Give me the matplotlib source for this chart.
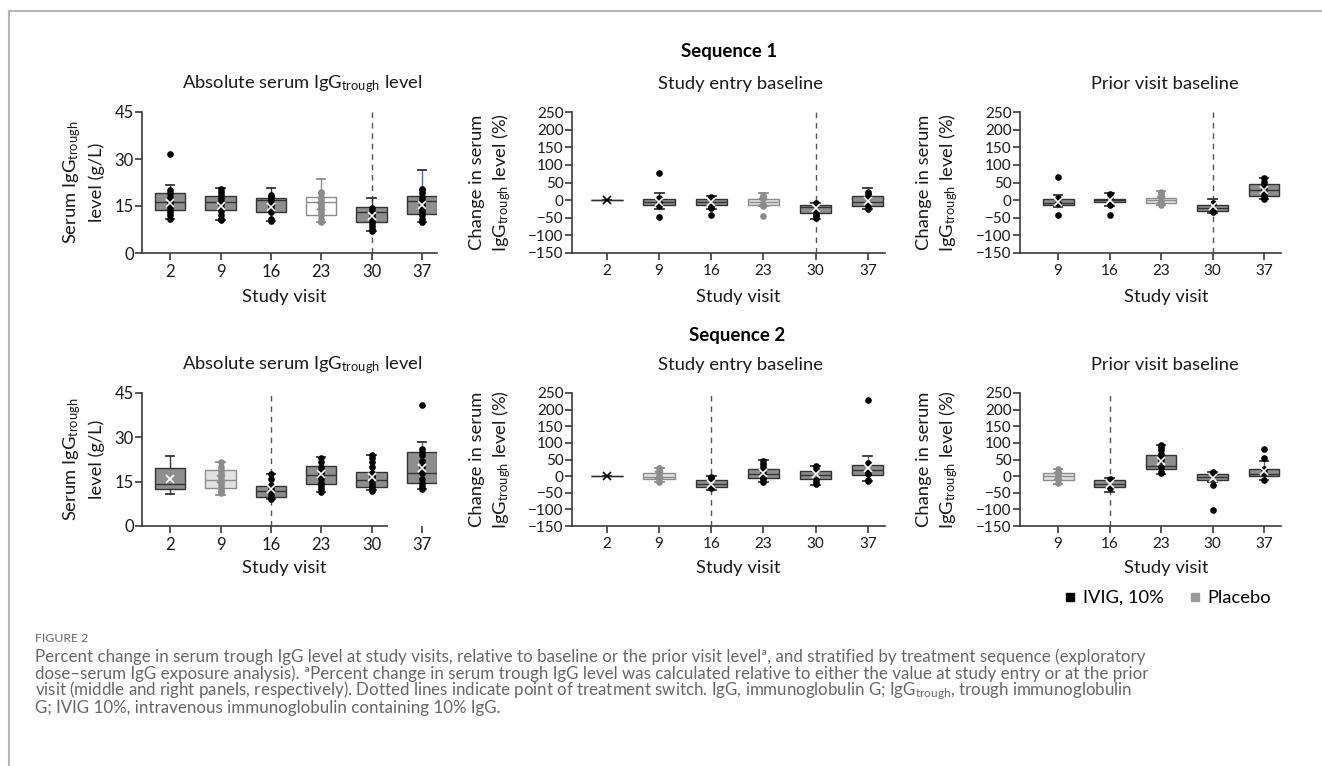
import numpy as np
import matplotlib.pyplot as plt
from matplotlib.lines import Line2D

plt.rcParams['font.family'] = ['Lato', 'DejaVu Sans']
plt.rcParams['mathtext.fontset'] = 'custom'
plt.rcParams['mathtext.rm'] = 'Lato'
plt.rcParams['mathtext.it'] = 'Lato:italic'
plt.rcParams['mathtext.bf'] = 'Lato:bold'

# ---- data ----
visits_all = ['2', '9', '16', '23', '30', '37']
visits_prior = ['9', '16', '23', '30', '37']
seq1_treat = ['IVIG', 'IVIG', 'IVIG', 'Placebo', 'IVIG', 'IVIG']
seq1_prior_treat = ['IVIG', 'IVIG', 'Placebo', 'IVIG', 'IVIG']
seq2_treat = ['IVIG', 'Placebo', 'IVIG', 'IVIG', 'IVIG', 'IVIG']
seq2_prior_treat = ['Placebo', 'IVIG', 'IVIG', 'IVIG', 'IVIG']
seq1_switch = '30'
seq2_switch = '16'

# Sequence 1, absolute serum IgG trough (g/L)
s1_abs_q1 = [13.8, 13.6, 13.2, 12.2, 9.9, 12.5]
s1_abs_med = [16.2, 16.2, 16.9, 16.4, 13.2, 16.6]
s1_abs_q3 = [19.1, 18.2, 17.5, 18.0, 14.8, 18.3]
s1_abs_lo = [11.0, 10.4, 10.1, 10.0, 7.0, 10.0]
s1_abs_hi = [21.7, 20.8, 20.8, 23.5, 17.5, 26.5]
s1_abs_mean = [16.0, 15.0, 14.8, 15.0, 11.7, 15.4]
s1_abs_pts = [[11, 12, 13, 14, 15, 16, 17, 18, 19, 20, 31.5],
              [10.5, 11, 12, 13.5, 14.5, 15.5, 16.5, 17.5, 18.5, 19.5, 20.5],
              [10.3, 10.8, 13, 14, 15, 16, 17, 18, 18.5],
              [10, 11, 12, 13, 14, 15, 16, 17, 18, 19, 19.5],
              [7, 7.8, 8.5, 9.5, 10.5, 11.5, 12.5, 13.5, 14.5],
              [10, 11, 12, 13, 14, 15, 16, 17, 18, 19, 20, 20.5]]

# Sequence 1, % change vs study entry
s1_ent_q1 = [0, -13.5, -13.5, -13.5, -37, -18]
s1_ent_med = [0, -6, -4, -4, -20, -4]
s1_ent_q3 = [0, 2.6, 4.5, 3.5, -13.5, 12]
s1_ent_lo = [0, -25, -26, -18, -54, -26]
s1_ent_hi = [0, 19, 12, 19, -7, 34]
s1_ent_mean = [0, -6, -6, -4, -21, -2]
s1_ent_pts = [[],
              [77.8, 5, -9, -16, -49],
              [10, 7, -18, -22, -42],
              [15, 10, 5, -18, -15, -44.6],
              [-7, -32, -40, -46, -51],
              [24, 18, 10, -18, -26]]

# Sequence 1, % change vs prior visit
s1_pri_q1 = [-13.5, -6, -7, -30.5, 12]
s1_pri_med = [-7, -1, -1, -21, 29]
s1_pri_q3 = [2.6, 3.5, 5.5, -13.5, 45]
s1_pri_lo = [-20, -18, -13.5, -37, 2.6]
s1_pri_hi = [15, 19, 27, 3.5, 62]
s1_pri_mean = [-4, -1, 0, -18, 29]
s1_pri_pts = [[64.6, 5, -9, -43.6],
              [17.6, 10, -13.5, -41.8],
              [24, 17.6, 10, -4, -13.5],
              [-9, -27.6, -35],
              [62, 52.6, 43, 33.6, 24, 15, 5.5, 2.6]]

# Sequence 2, absolute serum IgG trough (g/L)
s2_abs_q1 = [12.6, 13.0, 9.8, 14.3, 13.2, 14.6]
s2_abs_med = [14.3, 15.4, 11.7, 17.4, 15.7, 17.9]
s2_abs_q3 = [19.7, 18.8, 13.7, 20.4, 18.4, 24.9]
s2_abs_lo = [10.9, 10.6, 9.0, 11.5, 12.1, 12.6]
s2_abs_hi = [23.6, 21.8, 17.6, 23.4, 24.1, 28.5]
s2_abs_mean = [16.0, 16.0, 12.4, 17.6, 16.5, 19.7]
s2_abs_pts = [[],
              [11, 12, 13, 14, 15, 16, 17, 18, 19, 20, 21.5],
              [9, 9.5, 10.5, 11.5, 12.5, 14, 16, 17.5],
              [11.5, 12.5, 13.5, 14.5, 16, 17, 18, 19, 20, 21.5, 23],
              [12, 13, 14, 15, 16, 17, 18, 20, 21.5, 23, 24],
              [12.5, 13.5, 14.5, 16, 18, 20, 22, 24, 25, 26, 41.1]]

# Sequence 2, % change vs study entry
s2_ent_q1 = [0, -10, -34, -7, -8, 3]
s2_ent_med = [0, -2, -24, 6, 3, 18]
s2_ent_q3 = [0, 8, -12, 21, 15, 33.4]
s2_ent_lo = [0, -17, -42, -17, -27, -15]
s2_ent_hi = [0, 23, 0, 48.5, 30, 61.6]
s2_ent_mean = [0, 3, -24, 10, 5, 23]
s2_ent_pts = [[],
              [23, 15, 8, 0, -8, -17],
              [-2, -6, -32, -37],
              [45, 35, 26, 13, -2, -10, -17],
              [30, 20, -12, -20, -24],
              [230, 38.4, 13, 5, -12, -15]]

# Sequence 2, % change vs prior visit
s2_pri_q1 = [-11, -33, 22.4, -11, -1]
s2_pri_med = [-1, -23, 30.5, -3, 7.4]
s2_pri_q3 = [9, -13, 62.5, 5, 20]
s2_pri_lo = [-23, -48, 7.5, -18, -13]
s2_pri_hi = [22, -6, 94.6, 12.6, 45.5]
s2_pri_mean = [0, -23, 44, -5, 15.6]
s2_pri_pts = [[22, 12, 3, -10, -20],
              [-8, -36],
              [94, 88, 78, 68, 58, 48, 28, 13, 10],
              [12.6, 5, -26, -103],
              [80.6, 54.5, 22, 9.4, -13]]

W, H = 1322, 766


def fx(x):
  return x / W


def fy(y):
  return 1 - y / H


def draw_panel(ax, labels, treat, q1, med, q3, lo, hi, mean, pts, switch, placebo_fill='#e2e2e2'):
  pos = np.arange(len(labels))
  for i in range(len(labels)):
    stats = dict(q1=q1[i], med=med[i], q3=q3[i], whislo=lo[i], whishi=hi[i], mean=mean[i], fliers=[])
    if treat[i] == 'IVIG':
      face, edge, dotc = '#8e8e8e', '#333333', 'black'
      mc = 'white' if q3[i] > q1[i] else 'black'
    else:
      face, edge, dotc, mc = placebo_fill, '#8c8c8c', '#8c8c8c', '#8c8c8c'
    bp = ax.bxp([stats], positions=[pos[i]], widths=0.6, capwidths=0.17, patch_artist=True,
                showmeans=True, showfliers=False, manage_ticks=False,
                boxprops=dict(facecolor=face, edgecolor=edge, linewidth=1.0),
                medianprops=dict(color=edge, linewidth=1.0),
                whiskerprops=dict(color=edge, linewidth=1.0),
                capprops=dict(color=edge, linewidth=1.3),
                meanprops=dict(marker='x', markeredgecolor=mc, markersize=5.5,
                               markeredgewidth=1.2, zorder=5))
    if labels[i] == '37':
      bp['whiskers'][1].set_color('#4a6a9a')
    if pts[i]:
      ax.plot(np.full(len(pts[i]), pos[i]), pts[i], 'o', color=dotc, ms=4.8, mec='none', zorder=4)
  ax.axvline(labels.index(switch), color='#555555', lw=1.0, ls=(0, (4, 3.5)), zorder=1)
  ax.set_xticks(pos, labels)
  for s in ['top', 'right']:
    ax.spines[s].set_visible(False)
  for s in ['left', 'bottom']:
    ax.spines[s].set_linewidth(1.2)
    ax.spines[s].set_color('#3a3a3a')
  ax.tick_params(axis='both', length=5, width=1.2, color='#3a3a3a', labelsize=11, labelcolor='#1a1a1a')
  ax.tick_params(axis='y', pad=1)
  ax.tick_params(axis='x', pad=3)


fig = plt.figure(figsize=(W / 100, H / 100), dpi=100)

# axes rectangles in pixels: left, top, right, bottom
rows = [(112, 253), (393, 526)]
cols = [(142, 437, (-0.56, 5.3)), (572, 885, (-0.67, 5.33)), (1020, 1281, (-0.74, 4.33))]

panels = [
  [(visits_all, seq1_treat, s1_abs_q1, s1_abs_med, s1_abs_q3, s1_abs_lo, s1_abs_hi, s1_abs_mean, s1_abs_pts, seq1_switch),
   (visits_all, seq1_treat, s1_ent_q1, s1_ent_med, s1_ent_q3, s1_ent_lo, s1_ent_hi, s1_ent_mean, s1_ent_pts, seq1_switch),
   (visits_prior, seq1_prior_treat, s1_pri_q1, s1_pri_med, s1_pri_q3, s1_pri_lo, s1_pri_hi, s1_pri_mean, s1_pri_pts, seq1_switch)],
  [(visits_all, seq2_treat, s2_abs_q1, s2_abs_med, s2_abs_q3, s2_abs_lo, s2_abs_hi, s2_abs_mean, s2_abs_pts, seq2_switch),
   (visits_all, seq2_treat, s2_ent_q1, s2_ent_med, s2_ent_q3, s2_ent_lo, s2_ent_hi, s2_ent_mean, s2_ent_pts, seq2_switch),
   (visits_prior, seq2_prior_treat, s2_pri_q1, s2_pri_med, s2_pri_q3, s2_pri_lo, s2_pri_hi, s2_pri_mean, s2_pri_pts, seq2_switch)],
]

sub = r'IgG$_{\mathrm{trough}}$'
titles = ['Absolute serum ' + sub + ' level', 'Study entry baseline', 'Prior visit baseline']
title_x = [302, 740, 1165]
xlabel_x = [284, 738, 1166]
ylabels = ['Serum ' + sub + '\nlevel (g/L)', 'Change in serum\n' + sub + ' level (%)', 'Change in serum\n' + sub + ' level (%)']
ylabel_x = [83, 491, 938]
fs = 13.2

for r, (top, bottom) in enumerate(rows):
  for c, (left, right, xl) in enumerate(cols):
    ax = fig.add_axes([fx(left), fy(bottom), (right - left) / W, (bottom - top) / H])
    draw_panel(ax, *panels[r][c], placebo_fill='white' if (r, c) == (0, 0) else '#e2e2e2')
    ax.set_xlim(*xl)
    if c == 0:
      ax.set_ylim(0, 45)
      ax.set_yticks([0, 15, 30, 45])
      ax.tick_params(axis='both', labelsize=12)
    else:
      ax.set_ylim(-150, 250)
      ax.set_yticks(np.arange(-150, 251, 50))
      ax.set_yticklabels([str(v).replace('-', '\u2212') for v in range(-150, 251, 50)])
    if (r, c) == (1, 0):
      ax.spines['bottom'].set_bounds(xl[0], 4.3)
    ty = 84 if r == 0 else 365
    fig.text(fx(title_x[c]), fy(ty), titles[c], ha='center', va='center', fontsize=fs, color='#1a1a1a')
    fig.text(fx(xlabel_x[c]), fy(297 if r == 0 else 568), 'Study visit', ha='center', va='center',
             fontsize=fs, color='#1a1a1a')
    fig.text(fx(ylabel_x[c]), fy((top + bottom) / 2), ylabels[c], ha='center', va='center', rotation=90,
             multialignment='center', linespacing=1.38, fontsize=fs, color='#1a1a1a')

fig.text(fx(729), fy(52), 'Sequence 1', ha='center', va='center', fontsize=13.4, fontweight='bold')
fig.text(fx(737), fy(335), 'Sequence 2', ha='center', va='center', fontsize=13.4, fontweight='bold')

handles = [Line2D([], [], marker='s', color='black', ls='none', ms=6),
           Line2D([], [], marker='s', color='#999999', ls='none', ms=6)]
fig.legend(handles, ['IVIG, 10%', 'Placebo'], loc='center', bbox_to_anchor=(fx(1168), fy(598)), ncol=2,
           frameon=False, fontsize=fs, handlelength=0.6, handletextpad=0.4, columnspacing=1.4)

# frame and caption
fig.add_artist(Line2D([fx(9), 1], [fy(11), fy(11)], transform=fig.transFigure, color='#b8b8b8', lw=1.5))
fig.add_artist(Line2D([fx(9), fx(9)], [fy(11), 0], transform=fig.transFigure, color='#b8b8b8', lw=1.5))

cap_color = '#666666'
fig.text(fx(35), fy(638), 'FIGURE 2', ha='left', va='center', fontsize=8.8, color=cap_color)
caption = [
  'Percent change in serum trough IgG level at study visits, relative to baseline or the prior visit level\u00aa, and stratified by treatment sequence (exploratory',
  'dose\u2013serum IgG exposure analysis). \u00aaPercent change in serum trough IgG level was calculated relative to either the value at study entry or at the prior',
  'visit (middle and right panels, respectively). Dotted lines indicate point of treatment switch. IgG, immunoglobulin G; ' + sub + ', trough immunoglobulin',
  'G; IVIG 10%, intravenous immunoglobulin containing 10% IgG.',
]
for k, line in enumerate(caption):
  fig.text(fx(35), fy(657 + 17 * k), line, ha='left', va='center', fontsize=12.2, color=cap_color)

fig.savefig('out.png', dpi=100)
